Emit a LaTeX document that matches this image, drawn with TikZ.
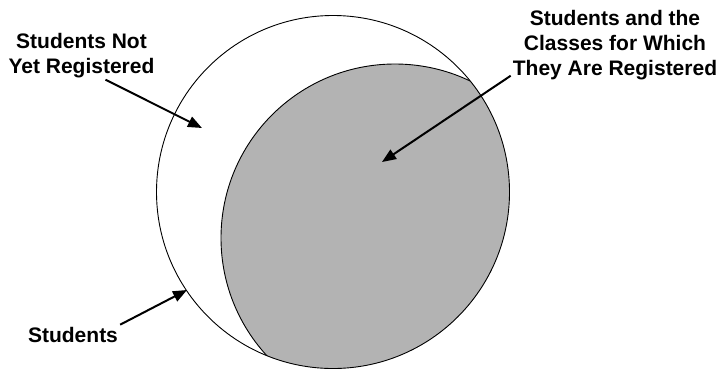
\documentclass[tikz,border=0pt]{standalone}
\usepackage{fontspec}
\setmainfont{Liberation Sans}
\usepackage{tikz}
\usetikzlibrary{positioning, arrows.meta, calc}
\definecolor{regfill}{RGB}{179,179,179}

\begin{document}
\begin{tikzpicture}[x=1pt, y=-1pt,
  lbl/.style={align=center, inner sep=2pt, font=\fontsize{21}{25}\selectfont\bfseries},
  ring/.style={draw=black, line width=0.9pt},
  arr/.style={-{Triangle[length=14pt, width=11pt]}, line width=2pt}]
\useasboundingbox (0,0) rectangle (719,370);
\coordinate (cstud) at (333,192);
\coordinate (creg) at (395,238);
\begin{scope}
  \clip (cstud) circle[radius=176.5pt];
  \fill[regfill] (creg) circle[radius=174pt];
  \draw[ring] (creg) circle[radius=174pt];
\end{scope}
\draw[ring] (cstud) circle[radius=176.5pt];
\node[lbl] (notreg) at (81.5,55.2) {Students Not\\Yet Registered};
\node[lbl] (clsreg) at (615,44.7) {Students and the\\Classes for Which\\They Are Registered};
\node[lbl] (stud) at (73,334.6) {Students};
\coordinate (tipnot) at (202,128);
\coordinate (tipcls) at (382,162);
\coordinate (tipstu) at (187,290);
\draw[arr] ([xshift=24pt]notreg.south) -- (tipnot);
\draw[arr] ([yshift=6pt]clsreg.south west) -- (tipcls);
\draw[arr] (stud.north east) -- (tipstu);
\end{tikzpicture}
\end{document}
